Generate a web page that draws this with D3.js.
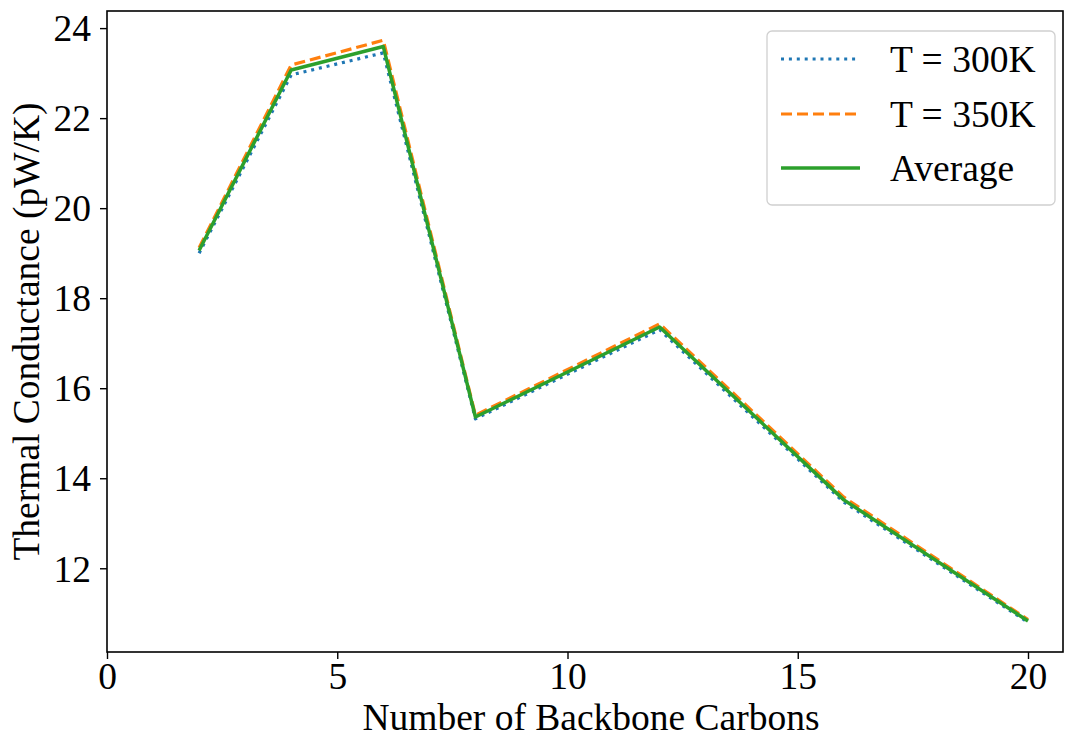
<!DOCTYPE html>
<html><head><meta charset="utf-8">
<script src="https://cdn.jsdelivr.net/npm/d3@7"></script>
<style>body{margin:0;background:#fff}svg{display:block}text{font-family:"Liberation Serif","Times New Roman",serif;fill:#000}</style>
</head><body><div id="chart"></div>
<script>
const carbons = [2, 4, 6, 8, 12, 16, 20];
const t300 = [19.00, 22.96, 23.45, 15.32, 17.30, 13.47, 10.80];
const t350 = [19.12, 23.18, 23.73, 15.40, 17.43, 13.58, 10.86];
const avg  = [19.06, 23.07, 23.59, 15.36, 17.36, 13.52, 10.83];
const xTicks = [0, 5, 10, 15, 20];
const yTicks = [12, 14, 16, 18, 20, 22, 24];
const seriesNames = ["T = 300K", "T = 350K", "Average"];

const W = 1065, H = 738;
const m = {l:107, r:1063, t:11, b:652};
const svg = d3.select("#chart").append("svg").attr("width", W).attr("height", H);
const x = d3.scaleLinear().domain([0, 20.76]).range([m.l, m.r]);
const y = d3.scaleLinear().domain([10.14, 24.38]).range([m.b, m.t]);
const FS = 37.5;

const series = [
  {name: seriesNames[0], vals: t300, color: "#1f77b4", dash: "3,4.9", w: 3.2},
  {name: seriesNames[1], vals: t350, color: "#ff7f0e", dash: "11,5", w: 3.2},
  {name: seriesNames[2], vals: avg,  color: "#2ca02c", dash: null, w: 3.5}
];
const line = d3.line().x(d => x(d[0])).y(d => y(d[1]));
series.forEach(s => {
  svg.append("path").datum(carbons.map((c,i)=>[c, s.vals[i]]))
    .attr("d", line).attr("fill","none").attr("stroke", s.color)
    .attr("stroke-width", s.w).attr("stroke-dasharray", s.dash)
    .attr("stroke-linejoin","round");
});

// frame
svg.append("rect").attr("x", m.l).attr("y", m.t).attr("width", m.r-m.l).attr("height", m.b-m.t)
  .attr("fill","none").attr("stroke","#000").attr("stroke-width",1.6);

const xAxis = svg.append("g").attr("transform",`translate(0,${m.b})`)
  .call(d3.axisBottom(x).tickValues(xTicks).tickFormat(d3.format("d")).tickSize(7).tickPadding(3));
const yAxis = svg.append("g").attr("transform",`translate(${m.l},0)`)
  .call(d3.axisLeft(y).tickValues(yTicks).tickFormat(d3.format("d")).tickSize(7).tickPadding(9));
[xAxis, yAxis].forEach(g => {
  g.select(".domain").remove();
  g.selectAll(".tick line").attr("stroke","#000").attr("stroke-width",1.4);
  g.selectAll(".tick text").style("font-size", FS+"px").style("font-family",'"Liberation Serif",serif').attr("fill","#000");
});
yAxis.selectAll(".tick text").attr("dy","0.34em");

svg.append("text").attr("x", (m.l+m.r)/2 + 6).attr("y", 729.5).attr("text-anchor","middle")
  .style("font-size", FS+"px").text("Number of Backbone Carbons");
svg.append("text").attr("transform",`translate(39,${(m.t+m.b)/2}) rotate(-90)`).attr("text-anchor","middle")
  .style("font-size", FS+"px").text("Thermal Conductance (pW/K)");

// legend
const lg = svg.append("g");
lg.append("rect").attr("x",767).attr("y",31).attr("width",288).attr("height",174).attr("rx",5)
  .attr("fill","#fff").attr("fill-opacity",0.8).attr("stroke","#d0d0d0").attr("stroke-width",1.3);
const rowY = [59, 114, 168];
series.forEach((s,i) => {
  lg.append("line").attr("x1",781).attr("x2",860).attr("y1",rowY[i]).attr("y2",rowY[i])
    .attr("stroke", s.color).attr("stroke-width", s.w).attr("stroke-dasharray", s.dash);
  lg.append("text").attr("x",890).attr("y",rowY[i]).attr("dy","0.35em").style("font-size",FS+"px").text(s.name);
});
</script></body></html>
